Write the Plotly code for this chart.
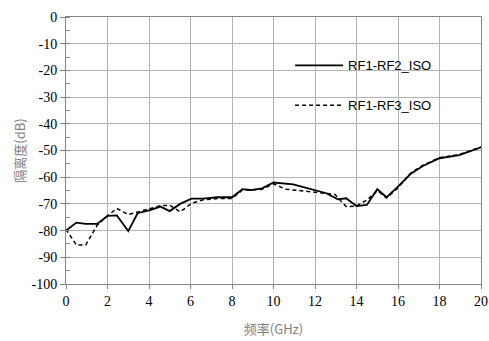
import plotly.graph_objects as go

freq1 = [0, 0.5, 0.95, 1.5, 2.0, 2.45, 3.0, 3.45, 4.05, 4.55, 5.0, 5.5, 6.05, 6.6, 7.3, 8.0, 8.5, 8.9, 9.45, 10.0, 10.95, 11.9, 12.55, 13.1, 13.5, 14.0, 14.5, 15.0, 15.45, 16.0, 16.6, 17.2, 18.0, 18.95, 20.0]
iso12 = [-80, -77, -77.5, -77.5, -74.5, -74.3, -80.2, -73.5, -72.3, -71, -72.7, -70, -68, -68, -67.5, -67.5, -64.5, -64.8, -64.2, -62, -62.7, -64.5, -66, -68.3, -67.9, -70.8, -70.4, -64.5, -67.5, -63.5, -58.8, -55.8, -52.9, -51.7, -48.8]

freq2 = [0, 0.5, 0.95, 1.5, 2.0, 2.45, 3.0, 3.5, 4.55, 5.0, 5.5, 6.05, 6.6, 7.3, 8.0, 8.5, 8.9, 9.45, 10.0, 10.6, 11.9, 12.95, 13.5, 14.0, 14.55, 15.0, 15.45, 16.0, 16.6, 17.2, 18.0, 18.95, 20.0]
iso13 = [-79.5, -85.4, -85.4, -78, -74.5, -71.7, -74, -73, -70.7, -70.5, -73, -69.8, -68.5, -68, -68, -64.8, -64.8, -64.5, -62.5, -64.5, -65.5, -66.4, -71, -70.8, -68.3, -65, -67.8, -64, -58.5, -55.5, -52.7, -51.5, -48.7]

x_ticks = [0, 2, 4, 6, 8, 10, 12, 14, 16, 18, 20]
y_ticks = [0, -10, -20, -30, -40, -50, -60, -70, -80, -90, -100]

fig = go.Figure()
fig.add_trace(go.Scatter(x=freq1, y=iso12, mode="lines", name="RF1-RF2_ISO",
                         line=dict(color="black", width=1.8), legendgroup="a"))
fig.add_trace(go.Scatter(x=freq2, y=iso13, mode="lines", name="RF1-RF3_ISO",
                         line=dict(color="black", width=1.5, dash="4px,3px"), legendgroup="b"))

grid = "#b4b4b4"
axcol = "#868686"
tickfont = dict(family="Liberation Serif, DejaVu Serif, serif", size=14, color="black")
fig.update_layout(
    width=489, height=341,
    margin=dict(l=66, r=8, t=17, b=57),
    paper_bgcolor="white", plot_bgcolor="white",
    showlegend=True,
    legend=dict(x=0.54, y=0.875, xanchor="left", yanchor="top",
                bgcolor="rgba(0,0,0,0)", tracegroupgap=20, itemwidth=48,
                font=dict(family="Liberation Sans, sans-serif", size=13, color="black")),
    xaxis=dict(range=[0, 20], tickvals=x_ticks, ticktext=[str(v) for v in x_ticks],
               automargin=False,
               showgrid=True, gridcolor=grid, gridwidth=1,
               showline=True, linecolor=axcol, mirror=True, ticks="outside",
               ticklen=4, tickcolor=axcol,
               tickfont=tickfont,
               title=dict(text="频率(GHz)", standoff=17,
                          font=dict(family="Noto Sans CJK SC", size=13, color="#808080"))),
    yaxis=dict(range=[-100, 0], tickvals=y_ticks, ticktext=[str(v) for v in y_ticks],
               automargin=False,
               showgrid=True, gridcolor=grid, gridwidth=1,
               showline=True, linecolor=axcol, mirror=True, ticks="outside",
               ticklen=5, tickcolor=axcol,
               minor=dict(dtick=5, ticks="inside", ticklen=4, tickcolor=axcol, showgrid=False),
               tickfont=tickfont,
               title=dict(text="隔离度(dB)", standoff=2,
                          font=dict(family="Noto Sans CJK SC", size=13, color="#808080"))),
)
fig.write_html("out.html", config={"displayModeBar": False},
               post_script="document.body.style.margin='0';document.body.style.padding='0';")
